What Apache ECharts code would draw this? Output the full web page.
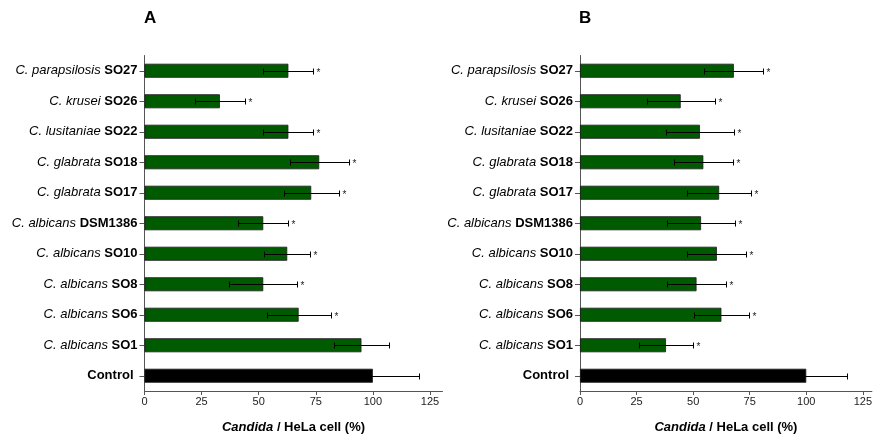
<!DOCTYPE html>
<html>
<head>
<meta charset="utf-8">
<script src="https://cdn.jsdelivr.net/npm/echarts@6/dist/echarts.min.js"></script>
<style>
  html, body { margin: 0; padding: 0; background: #fff; }
  #chart { width: 875px; height: 439px; }
</style>
</head>
<body>
<div id="chart"></div>
<script>
// Strains, listed top to bottom (species | strain)
const strains = [
  'C. parapsilosis|SO27',
  'C. krusei|SO26',
  'C. lusitaniae|SO22',
  'C. glabrata|SO18',
  'C. glabrata|SO17',
  'C. albicans|DSM1386',
  'C. albicans|SO10',
  'C. albicans|SO8',
  'C. albicans|SO6',
  'C. albicans|SO1',
  'Control'
];

// Panel A: mean, error and significance
const meanA = [63, 33, 63, 76.5, 73, 52, 62.5, 52, 67.5, 95, 100];
const errA  = [11, 11, 11, 13, 12, 11, 10, 15, 14, 12, 20];
const sigA  = [1, 1, 1, 1, 1, 1, 1, 1, 1, 0, 0];

// Panel B: mean, error and significance
const meanB = [68, 44.5, 53, 54.5, 61.5, 53.5, 60.5, 51.5, 62.5, 38, 100];
const errB  = [13, 15, 15, 13, 14, 15, 13, 13, 12, 12, 18];
const sigB  = [1, 1, 1, 1, 1, 1, 1, 1, 1, 1, 0];

const xTicks = [0, 25, 50, 75, 100, 125];
const panelLetters = ['A', 'B'];
const axisTitle = '{i|Candida} / HeLa cell (%)';

const GREEN = '#005a00';
const FONT = 'Liberation Sans, Arial, sans-serif';
const LABEL_SIZE = 13;

function labelFormatter(v) {
  if (v.indexOf('|') < 0) return '{c|' + v + '}';
  const p = v.split('|');
  return '{i|' + p[0] + '} {b|' + p[1] + '}';
}

function buildBars(means, gi) {
  return {
    type: 'bar',
    xAxisIndex: gi, yAxisIndex: gi,
    barWidth: 14,
    data: means.map((v, i) => ({
      value: v,
      itemStyle: { color: strains[i] === 'Control' ? '#000' : GREEN }
    })),
    itemStyle: { borderColor: '#1a1a1a', borderWidth: 0.8 },
    z: 2
  };
}

function buildErrors(means, errs, sigs, gi) {
  return {
    type: 'custom',
    xAxisIndex: gi, yAxisIndex: gi,
    data: means.map((v, i) => [v, i, errs[i], sigs[i]]),
    z: 5,
    renderItem: function (params, api) {
      const v = api.value(0), c = api.value(1), e = api.value(2), s = api.value(3);
      const lo = api.coord([v - e, c]);
      const hi = api.coord([v + e, c]);
      const y = Math.round(lo[1]) + 0.5;
      const xl = Math.round(lo[0]) + 0.5;
      const xh = Math.round(hi[0]) + 0.5;
      const cap = 3;
      const st = { stroke: '#000', lineWidth: 1 };
      const children = [
        { type: 'line', shape: { x1: xl, y1: y, x2: xh, y2: y }, style: st },
        { type: 'line', shape: { x1: xl, y1: y - cap, x2: xl, y2: y + cap }, style: st },
        { type: 'line', shape: { x1: xh, y1: y - cap, x2: xh, y2: y + cap }, style: st }
      ];
      if (s) {
        children.push({
          type: 'text',
          style: {
            text: '*', x: xh + 3, y: y + 2,
            fill: '#222', font: '10px ' + FONT,
            align: 'left', verticalAlign: 'middle'
          }
        });
      }
      return { type: 'group', children: children };
    }
  };
}

const grids = [
  { left: 144.5, top: 55.5, width: 298, height: 338 },
  { left: 580, top: 55.5, width: 295, height: 338 }
];
const xMax = [130.5, 129];

const chart = echarts.init(document.getElementById('chart'));
chart.setOption({
  animation: false,
  backgroundColor: '#fff',
  grid: grids,
  xAxis: [0, 1].map(gi => ({
    type: 'value', gridIndex: gi, min: 0, max: xMax[gi],
    splitLine: { show: false },
    axisLine: { show: true, lineStyle: { color: '#555', width: 1 } },
    axisTick: { show: true, length: 4, customValues: xTicks, lineStyle: { color: '#555' } },
    axisLabel: { customValues: xTicks, fontSize: 11, color: '#222', fontFamily: FONT, margin: 5 },
    name: axisTitle,
    nameLocation: 'middle',
    nameGap: 30,
    nameTextStyle: {
      fontSize: 13, fontWeight: 'bold', color: '#000', fontFamily: FONT,
      rich: { i: { fontSize: 13, fontWeight: 'bold', fontStyle: 'italic', color: '#000', fontFamily: FONT } }
    }
  })),
  yAxis: [0, 1].map(gi => ({
    type: 'category', gridIndex: gi, inverse: true,
    data: strains,
    axisLine: { show: true, lineStyle: { color: '#555', width: 1 } },
    axisTick: { show: true, alignWithLabel: true, length: 5, lineStyle: { color: '#555' } },
    axisLabel: {
      margin: 7, color: '#000', fontFamily: FONT, fontSize: LABEL_SIZE,
      formatter: labelFormatter,
      rich: {
        i: { fontStyle: 'italic', fontSize: LABEL_SIZE, color: '#000', fontFamily: FONT },
        b: { fontWeight: 'bold', fontSize: LABEL_SIZE, color: '#000', fontFamily: FONT },
        c: { fontWeight: 'bold', fontSize: LABEL_SIZE, color: '#000', fontFamily: FONT, padding: [0, 4, 0, 0] }
      }
    }
  })),
  graphic: panelLetters.map((t, gi) => ({
    type: 'text',
    left: gi === 0 ? 144 : 579,
    top: 10,
    style: { text: t, font: 'bold 17px ' + FONT, fill: '#000' }
  })),
  series: [
    buildBars(meanA, 0), buildErrors(meanA, errA, sigA, 0),
    buildBars(meanB, 1), buildErrors(meanB, errB, sigB, 1)
  ]
});
</script>
</body>
</html>
